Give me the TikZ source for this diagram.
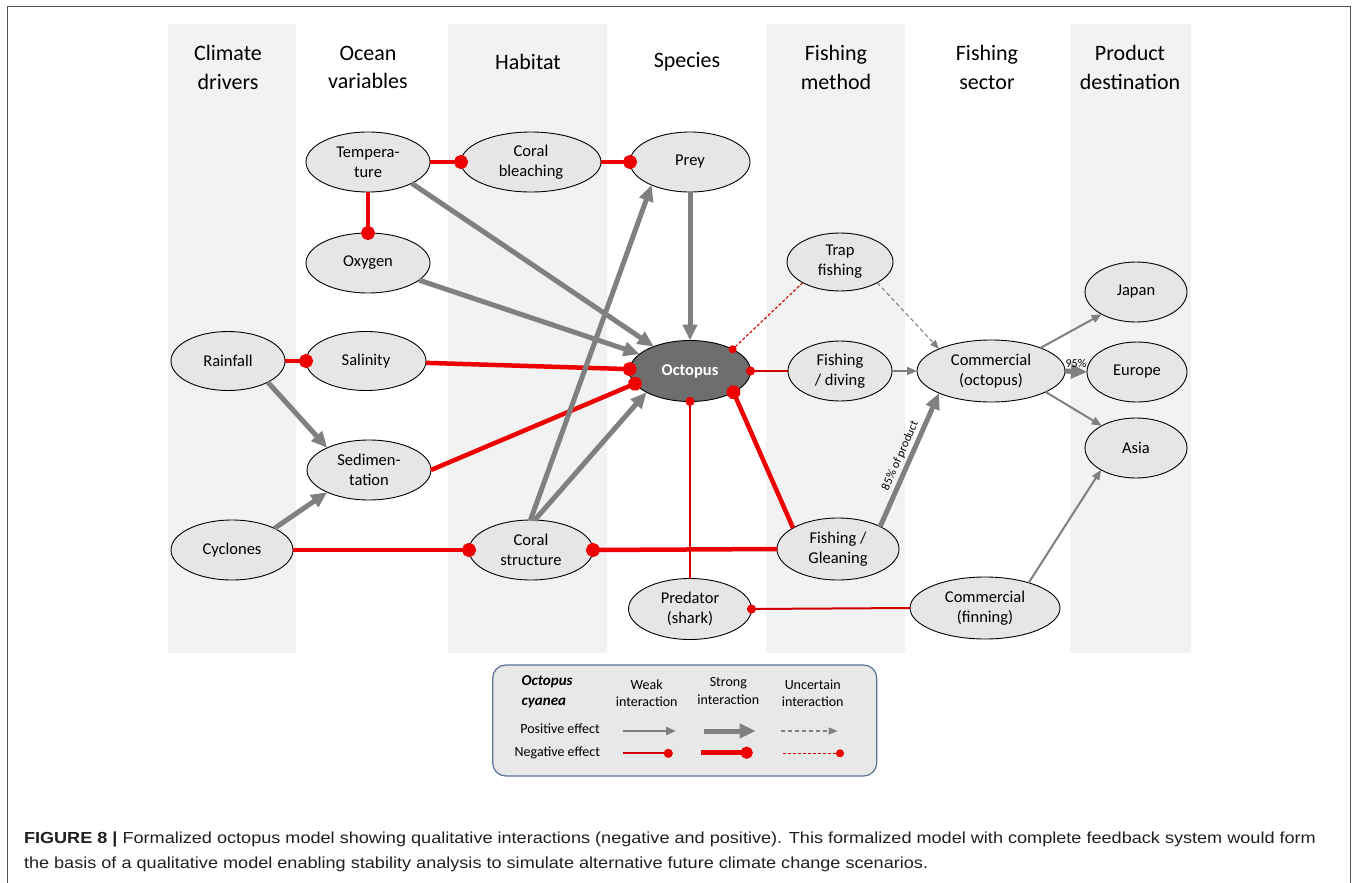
\documentclass[tikz,border=0pt]{standalone}
\usepackage{graphicx}
\usepackage{fontspec}
\setmainfont{Carlito}
\newfontfamily\capfont{Liberation Sans}
\usetikzlibrary{arrows.meta,shapes.geometric}
\definecolor{band}{HTML}{F2F2F2}
\definecolor{nodefill}{HTML}{E6E6E6}
\definecolor{octfill}{HTML}{6E6E6E}
\definecolor{pgray}{HTML}{808080}
\definecolor{nred}{HTML}{EE0000}
\definecolor{nredthin}{HTML}{D00000}
\definecolor{legborder}{HTML}{5A7394}
\definecolor{legfill}{HTML}{E8E8E8}
\definecolor{framec}{HTML}{555555}
\definecolor{captext}{HTML}{231F20}
\newlength\capwd
\newcommand\capfirstline{\textbf{FIGURE 8 |} Formalized octopus model showing qualitative interactions (negative and positive). This formalized model with complete feedback system would form}
\newcommand\capsecondline{the basis of a qualitative model enabling stability analysis to simulate alternative future climate change scenarios.}
\newcommand\capsetup{\capfont\fontsize{16}{18}\selectfont\settowidth\capwd{\capfirstline}\pgfmathsetmacro\capr{1292/\capwd}}
\tikzset{
 every node/.style={inner sep=0pt, outer sep=0pt},
 ell/.style={ellipse, draw=black, line width=0.9pt, fill=nodefill, align=center, font=\fontsize{16.5}{20}\selectfont},
 sz/.style 2 args={minimum width=#1pt, minimum height=#2pt},
 hdr/.style={align=center, font=\fontsize{22}{28.4}\selectfont},
 lgt/.style={align=center, font=\fontsize{14}{17.5}\selectfont},
 smalllab/.style={font=\fontsize{12}{14}\selectfont},
 strongpos/.style={draw=pgray, line width=5pt, -{Triangle[length=16pt,width=14pt]}},
 weakpos/.style={draw=pgray, line width=2pt, -{Triangle[length=10pt,width=8pt]}},
 uncpos/.style={draw=pgray, line width=1.1pt, dash pattern=on 4pt off 3pt, -{Triangle[length=9pt,width=7pt]}},
 strongneg/.style={draw=nred, line width=4.5pt, -{Circle[length=14pt]}, shorten >=-7pt},
 weakneg/.style={draw=nredthin, line width=2pt, -{Circle[length=9pt,color=nred]}, shorten >=-4.5pt},
 uncneg/.style={draw=nredthin, line width=1.1pt, dash pattern=on 3pt off 2pt, -{Circle[length=8pt,color=nred]}, shorten >=-4pt},
}
\begin{document}
\begin{tikzpicture}[x=1pt,y=-1pt]
\useasboundingbox (0,0) rectangle (1357,883);
\fill[white] (0,0) rectangle (1357,883);
% column bands
\fill[band] (168,24) rectangle (296,653);
\fill[band] (448,24) rectangle (607,653);
\fill[band] (766,24) rectangle (905,653);
\fill[band] (1070,24) rectangle (1191,653);
% frame
\draw[framec, line width=1.3pt] (7.5,883) -- (7.5,6.5) -- (1350.5,6.5) -- (1350.5,883);
% headers
\node[hdr] (h1) at (228,67.5) {Climate\\drivers};
\node[hdr] (h2) at (368,67.5) {Ocean\\variables};
\node[hdr] (h3) at (528,62) {Habitat};
\node[hdr] (h4) at (687,62) {Species};
\node[hdr] (h5) at (836,67.5) {Fishing\\method};
\node[hdr] (h6) at (987,67.5) {Fishing\\sector};
\node[hdr] (h7) at (1130,67.5) {Product\\destination};
% nodes
\node[ell, sz={124}{60}] (temp) at (368,162) {Tempera-\\ture};
\node[ell, sz={140}{60}] (bleach) at (531,162) {Coral\\bleaching};
\node[ell, sz={120}{60}] (prey) at (690,162) {Prey};
\node[ell, sz={124}{60}] (oxy) at (368,263) {Oxygen};
\node[ell, sz={106}{58}] (trap) at (840,262) {Trap\\fishing};
\node[ell, sz={102}{60}] (japan) at (1136,292) {Japan};
\node[ell, sz={114}{59}] (rain) at (228,361) {Rainfall};
\node[ell, sz={120}{59}] (sal) at (366,361) {Salinity};
\node[ell, sz={121}{61}, fill=octfill, text=white, font=\fontsize{16.5}{20}\selectfont\bfseries] (oct) at (690,371) {Octopus};
\node[ell, sz={104}{60}] (dive) at (840,371) {Fishing\\/ diving};
\node[ell, sz={148}{62}] (comm) at (991,371) {Commercial\\(octopus)};
\node[ell, sz={100}{60}] (europe) at (1137,372) {Europe};
\node[ell, sz={102}{60}] (asia) at (1136,448) {Asia};
\node[ell, sz={124}{60}] (sed) at (369,470) {Sedimen-\\tation};
\node[ell, sz={122}{60}] (cyc) at (232,550) {Cyclones};
\node[ell, sz={124}{60}] (coral) at (531,550) {Coral\\structure};
\node[ell, sz={122}{62}] (glean) at (838,549) {Fishing /\\Gleaning};
\node[ell, sz={123}{61}] (pred) at (690,609) {Predator\\(shark)};
\node[ell, sz={150}{62}] (fin) at (985,608) {Commercial\\(finning)};
% connectors
\draw[strongneg] (temp.0) -- (bleach.180);
\draw[strongneg] (bleach.0) -- (prey.180);
\draw[strongneg] (temp.-90) -- (oxy.90);
\draw[strongpos] (temp.-26) -- (oct);
\draw[strongpos] (oxy) -- (oct);
\draw[strongpos] (prey) -- (oct);
\draw[strongneg] (rain.0) -- (sal.180);
\draw[strongneg] (sal) -- (oct);
\draw[strongpos] (rain.-28) -- (sed.152);
\draw[strongpos] (cyc.27) -- (sed.208);
\draw[strongneg] (sed.0) -- (oct.193);
\draw[strongneg] (cyc.0) -- (coral.180);
\draw[strongpos] (coral.91) -- (prey.211);
\draw[strongpos] (coral.83) -- (oct.206);
\draw[weakneg] (pred.90) -- (oct.-90);
\draw[strongneg] (glean.180) -- (coral.0);
\draw[strongneg] (glean.155) -- (oct.-26);
\draw[weakneg] (dive.180) -- (oct.0);
\draw[uncneg] (trap.209) -- (oct.27);
\draw[uncpos] (trap.-29) -- (comm.157);
\draw[weakpos] (dive.0) -- (comm.180);
\draw[strongpos] (glean.28) -- node[sloped, above=5pt, smalllab] (l85) {85\% of product} (comm.203);
\draw[weakpos] (comm.25) -- (japan.213);
\draw[strongpos] (comm.0) -- node[above=4pt, smalllab] (l95) {95\%} (europe.180);
\draw[weakpos] (comm.-21) -- (asia.147);
\draw[weakpos] (fin.30) -- (asia.212);
\draw[weakneg] (fin.180) -- (pred.0);
% legend
\node[draw=legborder, fill=legfill, rounded corners=13pt, line width=1.2pt, minimum width=384pt, minimum height=111pt] (legend) at (684.7,720.5) {};
\node[anchor=west, align=left, font=\fontsize{15}{20}\selectfont\bfseries\itshape] (lsp) at (521.7,691.7) {Octopus\\cyanea};
\node[lgt] (lweak) at (646.7,693) {Weak\\interaction};
\node[lgt] (lstrong) at (728.3,691) {Strong\\interaction};
\node[lgt] (lunc) at (812.7,693) {Uncertain\\interaction};
\node[lgt] (lpos) at (560,728.3) {Positive effect};
\node[lgt] (lneg) at (557.3,753.3) {Negative effect};
\coordinate (a1) at (623.3,731); \coordinate (a2) at (676,731);
\coordinate (b1) at (704.3,731); \coordinate (b2) at (755.7,731);
\coordinate (c1) at (780.7,731); \coordinate (c2) at (837.7,731);
\coordinate (d1) at (623.3,753.3); \coordinate (d2) at (668.3,753.3);
\coordinate (e1) at (701,752.7); \coordinate (e2) at (746.7,752.7);
\coordinate (f1) at (783.3,753.3); \coordinate (f2) at (840,753.3);
\draw[weakpos] (a1) -- (a2);
\draw[strongpos] (b1) -- (b2);
\draw[uncpos] (c1) -- (c2);
\draw[weakneg] (d1) -- (d2);
\draw[strongneg, -{Circle[length=12pt]}, shorten >=-6pt] (e1) -- (e2);
\draw[uncneg] (f1) -- (f2);
% caption
\node[anchor=base west, text=captext] (cap1) at (24,843) {\capsetup\scalebox{\capr}[1]{\capfirstline}};
\node[anchor=base west, text=captext] (cap2) at (24,868) {\capsetup\scalebox{\capr}[1]{\capsecondline}};
\end{tikzpicture}
\end{document}
